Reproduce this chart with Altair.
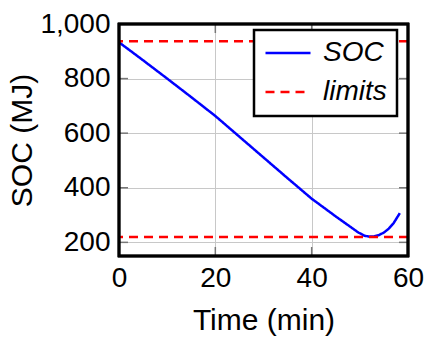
import altair as alt
import pandas as pd

# Data
time_min = [0, 5, 10, 15, 20, 25, 30, 35, 40, 45, 49.7, 51, 52, 53, 54, 55, 56, 57, 58.3]
soc_mj = [933, 867, 800, 732, 663, 587, 511, 435, 360, 295, 236, 224, 221, 222, 227, 236, 250, 270, 307]
limit_values = [937, 220]
x_ticks = [0, 20, 40, 60]
y_ticks = [200, 400, 600, 800, 1000]
x_inner_ticks = [20, 40]
y_inner_ticks = [200, 400, 600, 800]

W, H = 289, 232
FONT = "Liberation Sans"

df_soc = pd.DataFrame({"time": time_min, "soc": soc_mj, "series": "SOC"})
df_lim = pd.DataFrame({"soc": limit_values, "series": "limits"})
df_xt = pd.DataFrame({"time": x_inner_ticks})
df_yt = pd.DataFrame({"soc": y_inner_ticks})

xscale = alt.Scale(domain=[0, 60], nice=False, zero=False)
yscale = alt.Scale(domain=[150, 1000], nice=False, zero=False)

xaxis = alt.Axis(values=x_ticks, title="Time (min)", ticks=False, domain=False,
                 labelPadding=8, titlePadding=13, labelFlush=False, format="d")
yaxis = alt.Axis(values=y_ticks, title="SOC (MJ)", ticks=False, domain=False,
                 labelPadding=9, titlePadding=2, format=",d")

X = alt.X("time:Q", scale=xscale, axis=xaxis)
Y = alt.Y("soc:Q", scale=yscale, axis=yaxis)

legend = alt.Legend(
    orient="none", legendX=135, legendY=6, title=None,
    symbolType="stroke", symbolSize=2025, symbolStrokeWidth=2.5,
    labelFont=FONT, labelFontSize=28, labelFontStyle="italic", labelColor="black",
    labelOffset=11, padding=10, rowPadding=11, clipHeight=26,
    strokeColor="black", fillColor="white",
)
color = alt.Color("series:N", scale=alt.Scale(domain=["SOC", "limits"], range=["#0000ff", "#ff0000"]),
                  legend=legend, title=None)
dash = alt.StrokeDash("series:N", scale=alt.Scale(domain=["SOC", "limits"], range=[[1, 0], [9, 6]]),
                      legend=legend, title=None)

ytick_l = alt.Chart(df_yt).mark_rule(color="#777777", strokeWidth=1.5).encode(
    y=Y, x=alt.value(0), x2=alt.value(9))
ytick_r = alt.Chart(df_yt).mark_rule(color="#777777", strokeWidth=1.5).encode(
    y=Y, x=alt.value(W - 9), x2=alt.value(W))
xtick_b = alt.Chart(df_xt).mark_rule(color="#777777", strokeWidth=1.5).encode(
    x=X, y=alt.value(H - 9), y2=alt.value(H))
xtick_t = alt.Chart(df_xt).mark_rule(color="#777777", strokeWidth=1.5).encode(
    x=X, y=alt.value(0), y2=alt.value(9))

soc_line = alt.Chart(df_soc).mark_line(strokeWidth=2.5, clip=True).encode(
    x=X, y=Y, color=color, strokeDash=dash, order="time:Q")
lim_rule = alt.Chart(df_lim).mark_rule(strokeWidth=2.5).encode(
    y=Y, color=color, strokeDash=dash)

frame = alt.Chart(df_yt).mark_rect(fillOpacity=0, stroke="black", strokeWidth=2.5).encode(
    x=alt.value(0), x2=alt.value(W), y=alt.value(0), y2=alt.value(H))

chart = alt.layer(ytick_l, ytick_r, xtick_b, xtick_t, soc_line, lim_rule, frame).properties(
    width=W, height=H,
    autosize=alt.AutoSizeParams(type="none"),
    padding={"left": 119, "top": 24, "right": 17, "bottom": 81},
).configure_view(stroke=None).configure_axis(
    labelFont=FONT, titleFont=FONT, labelFontSize=28, titleFontSize=30,
    labelColor="black", titleColor="black", titleFontWeight="normal",
    gridColor="#c8c8c8", gridWidth=1,
).configure_legend(strokeWidth=2.5)

chart.save("out.html", embed_options={"renderer": "svg", "actions": False})
